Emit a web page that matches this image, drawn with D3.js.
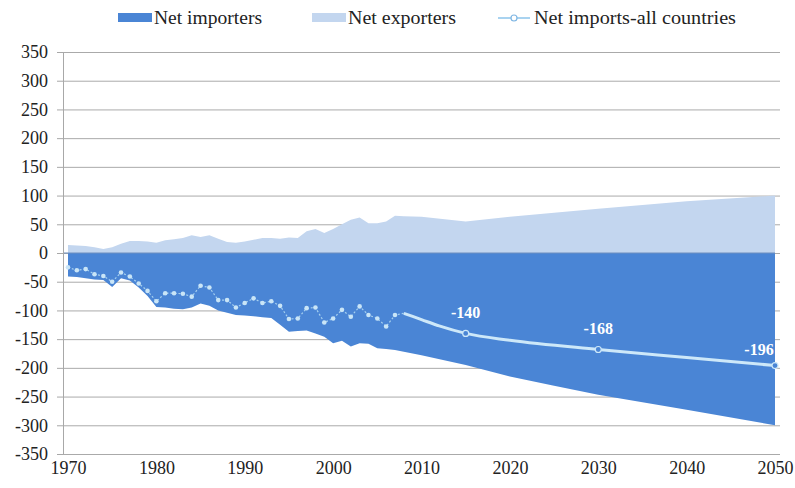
<!DOCTYPE html>
<html>
<head>
<meta charset="utf-8">
<script src="https://cdn.jsdelivr.net/npm/d3@7"></script>
<style>
  body { margin: 0; background: #fff; }
  svg text { font-family: "Liberation Serif", "DejaVu Serif", serif !important; }
</style>
</head>
<body>
<div id="chart"></div>
<script>
// stacked areas: yearly history, then projection points
const areaYears = [1970, 1971, 1972, 1973, 1974, 1975, 1976, 1977, 1978, 1979,
  1980, 1981, 1982, 1983, 1984, 1985, 1986, 1987, 1988, 1989,
  1990, 1991, 1992, 1993, 1994, 1995, 1996, 1997, 1998, 1999,
  2000, 2001, 2002, 2003, 2004, 2005, 2006, 2007, 2008,
  2010, 2015, 2020, 2025, 2030, 2040, 2050];
const netExporters = [14, 13, 12, 10, 7, 10, 16, 21, 21, 20,
  18, 22, 24, 26, 31, 28, 31, 25, 19, 18,
  20, 23, 26, 26, 25, 27, 26, 38, 42, 35,
  42, 50, 58, 62, 52, 52, 55, 65, 64,
  63, 55, 63, 70, 77, 90, 100];
const netImporters = [-41, -42, -44, -46, -47, -59, -44, -48, -60, -75,
  -94, -95, -97, -98, -95, -88, -92, -100, -104, -108,
  -109, -110, -112, -113, -125, -137, -136, -135, -140, -146,
  -157, -153, -163, -157, -158, -166, -167, -169, -172,
  -178, -195, -215, -231, -247, -273, -300];

// net imports, all countries
const histYears = d3.range(1970, 2008);
const netImportsHist = [-25, -30, -28, -37, -40, -50, -34, -41, -53, -66,
  -84, -70, -70, -71, -76, -57, -60, -82, -82, -95,
  -87, -79, -87, -84, -92, -115, -114, -96, -95, -121,
  -114, -99, -111, -93, -108, -114, -128, -108];
const projYears = [2008, 2010, 2012, 2015, 2020, 2030, 2040, 2050];
const netImportsProj = [-105, -116, -127, -140, -152, -168, -182, -196];
const labelYears = [2015, 2030, 2050];

const yTicks = d3.range(-350, 351, 50);
const xTicks = d3.range(1970, 2051, 10);
const legendNames = ["Net importers", "Net exporters", "Net imports-all countries"];

const W = 795, H = 488;
const darkBlue = "#4a85d5", lightBlue = "#c3d6ef", lineBlue = "#cde8f9";

const svg = d3.select("#chart").append("svg")
  .attr("width", W).attr("height", H);

const x = d3.scaleLinear().domain([1970, 2050]).range([68, 775]);
const y = d3.scaleLinear().domain([-350, 350]).range([454, 52]);
const axisX = 63, gridRight = 780;

// gridlines
svg.append("g")
  .attr("transform", "translate(" + axisX + ",0)")
  .call(d3.axisLeft(y).tickValues(yTicks).tickSize(-(gridRight - axisX)).tickFormat(""))
  .call(g => g.select(".domain").remove())
  .call(g => g.selectAll("line").attr("stroke", "#aaaaaa"));

const rows = areaYears.map((yr, i) => ({ year: yr, exp: netExporters[i], imp: netImporters[i] }));

svg.append("path")
  .datum(rows)
  .attr("fill", lightBlue)
  .attr("d", d3.area().x(d => x(d.year)).y0(y(0)).y1(d => y(d.exp)));

svg.append("path")
  .datum(rows)
  .attr("fill", darkBlue)
  .attr("d", d3.area().x(d => x(d.year)).y0(y(0)).y1(d => y(d.imp)));

// zero line
svg.append("line")
  .attr("x1", axisX).attr("x2", x(2050))
  .attr("y1", y(0)).attr("y2", y(0))
  .attr("stroke", "#6d8fbf").attr("stroke-width", 1);

// y axis
const yAxis = svg.append("g")
  .attr("transform", "translate(" + axisX + ",0)")
  .call(d3.axisLeft(y).tickValues(yTicks).tickSize(6).tickPadding(9).tickFormat(d => String(d)));
yAxis.select(".domain").attr("stroke", "#a8a8a8");
yAxis.selectAll("line").attr("stroke", "#a8a8a8");
yAxis.selectAll("text").attr("font-size", 18).attr("fill", "#222");

// x axis labels
const xAxis = svg.append("g")
  .attr("transform", "translate(0," + y(-350) + ")")
  .call(d3.axisBottom(x).tickValues(xTicks).tickSize(0).tickPadding(7).tickFormat(d3.format("d")));
xAxis.select(".domain").remove();
xAxis.selectAll("text").attr("font-size", 18).attr("fill", "#222");

// historical net imports: dotted with markers, joined to first projected point
const hist = histYears.map((yr, i) => ({ year: yr, v: netImportsHist[i] }));
const proj = projYears.map((yr, i) => ({ year: yr, v: netImportsProj[i] }));
svg.append("path")
  .datum(hist.concat([proj[0]]))
  .attr("fill", "none")
  .attr("stroke", "#a6d0ef")
  .attr("stroke-width", 1.2)
  .attr("stroke-dasharray", "2,2")
  .attr("d", d3.line().x(d => x(d.year)).y(d => y(d.v)));
svg.selectAll(".hdot")
  .data(hist)
  .join("circle")
  .attr("class", "hdot")
  .attr("cx", d => x(d.year)).attr("cy", d => y(d.v))
  .attr("r", 2.3)
  .attr("fill", "#c9e5f7");

// projection
svg.append("path")
  .datum(proj)
  .attr("fill", "none")
  .attr("stroke", lineBlue)
  .attr("stroke-width", 3)
  .attr("d", d3.line().curve(d3.curveMonotoneX).x(d => x(d.year)).y(d => y(d.v)));

const labelled = proj.filter(d => labelYears.includes(d.year));
svg.selectAll(".pdot")
  .data(labelled)
  .join("circle")
  .attr("class", "pdot")
  .attr("cx", d => x(d.year)).attr("cy", d => y(d.v))
  .attr("r", 3)
  .attr("fill", darkBlue)
  .attr("stroke", lineBlue)
  .attr("stroke-width", 1.2);

svg.selectAll(".plabel")
  .data(labelled)
  .join("text")
  .attr("class", "plabel")
  .attr("x", d => d.year === 2050 ? x(d.year) - 16 : x(d.year))
  .attr("y", d => y(d.v) - (d.year === 2050 ? 11 : 15))
  .attr("text-anchor", "middle")
  .attr("font-size", 16)
  .attr("font-weight", "bold")
  .attr("fill", "#fff")
  .text(d => String(d.v));

// legend
const legend = svg.append("g");
const legendX = [118, 312, 498];
const textWidths = [108, 108, 202];
legendNames.forEach((name, i) => {
  if (i < 2) {
    legend.append("rect")
      .attr("x", legendX[i]).attr("y", 13)
      .attr("width", 34).attr("height", 9)
      .attr("fill", i === 0 ? darkBlue : lightBlue);
  } else {
    legend.append("line")
      .attr("x1", legendX[i]).attr("x2", legendX[i] + 32)
      .attr("y1", 18).attr("y2", 18)
      .attr("stroke", "#a9d3f0").attr("stroke-width", 2);
    legend.append("circle")
      .attr("cx", legendX[i] + 16).attr("cy", 18).attr("r", 3)
      .attr("fill", "#fff").attr("stroke", "#7fb6e3").attr("stroke-width", 1.2);
  }
  legend.append("text")
    .attr("x", legendX[i] + 36).attr("y", 24)
    .attr("font-size", 18)
    .attr("fill", "#222")
    .attr("textLength", textWidths[i])
    .attr("lengthAdjust", "spacingAndGlyphs")
    .text(name);
});
</script>
</body>
</html>
